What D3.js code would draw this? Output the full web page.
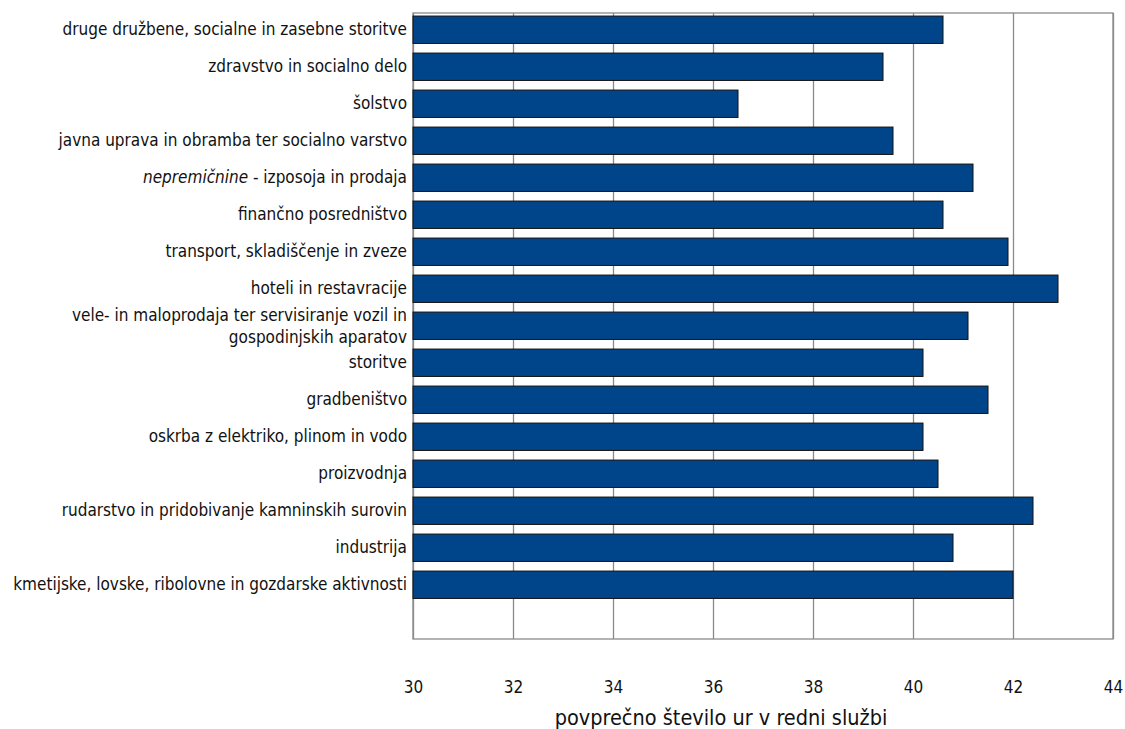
<!DOCTYPE html>
<html>
<head>
<meta charset="utf-8">
<script src="https://cdn.jsdelivr.net/npm/d3@7"></script>
<style>
  body { margin: 0; background: #fff; }
  svg text { font-family: "DejaVu Sans Condensed", "Liberation Sans Narrow", sans-serif; fill: #111; }
</style>
</head>
<body>
<div id="chart"></div>
<script>
var categories = [
  "druge družbene, socialne in zasebne storitve",
  "zdravstvo in socialno delo",
  "šolstvo",
  "javna uprava in obramba ter socialno varstvo",
  "nepremičnine - izposoja in prodaja",
  "finančno posredništvo",
  "transport, skladiščenje in zveze",
  "hoteli in restavracije",
  "vele- in maloprodaja ter servisiranje vozil in|gospodinjskih aparatov",
  "storitve",
  "gradbeništvo",
  "oskrba z elektriko, plinom in vodo",
  "proizvodnja",
  "rudarstvo in pridobivanje kamninskih surovin",
  "industrija",
  "kmetijske, lovske, ribolovne in gozdarske aktivnosti"
];
var hours = [40.6, 39.4, 36.5, 39.6, 41.2, 40.6, 41.9, 42.9, 41.1, 40.2, 41.5, 40.2, 40.5, 42.4, 40.8, 42.0];
var xTicks = [30, 32, 34, 36, 38, 40, 42, 44];
var xTitle = "povprečno število ur v redni službi";

var W = 1125, H = 729;
var plot = {left: 413, right: 1113, top: 13, bottom: 639};

var svg = d3.select("#chart").append("svg")
  .attr("width", W)
  .attr("height", H);

var x = d3.scaleLinear().domain([30, 44]).range([plot.left, plot.right]);
var y = d3.scaleBand()
  .domain(categories)
  .range([plot.top - 1.75, plot.top + 590.25])
  .paddingInner(0.26)
  .paddingOuter(0.13);

// grid lines
svg.append("g")
  .attr("class", "grid")
  .attr("transform", "translate(0," + plot.bottom + ")")
  .call(d3.axisBottom(x).tickValues(xTicks).tickSize(-(plot.bottom - plot.top)).tickFormat(""))
  .call(function(g) { g.select(".domain").remove(); })
  .selectAll("line")
    .attr("stroke", "#8a8a8a")
    .attr("stroke-width", 1.3);

// plot frame
svg.append("rect")
  .attr("x", plot.left)
  .attr("y", plot.top)
  .attr("width", plot.right - plot.left)
  .attr("height", plot.bottom - plot.top)
  .attr("fill", "none")
  .attr("stroke", "#8a8a8a")
  .attr("stroke-width", 1.3);

// bars
svg.selectAll(".bar")
  .data(categories)
  .enter().append("rect")
    .attr("class", "bar")
    .attr("x", x(30))
    .attr("y", function(d) { return y(d); })
    .attr("width", function(d, i) { return x(hours[i]) - x(30); })
    .attr("height", y.bandwidth())
    .attr("fill", "#00448a")
    .attr("stroke", "#111")
    .attr("stroke-width", 1);

// x tick labels
var xAxis = svg.append("g")
  .attr("transform", "translate(0," + plot.bottom + ")")
  .call(d3.axisBottom(x).tickValues(xTicks).tickSize(0).tickPadding(42));
xAxis.select(".domain").remove();
xAxis.selectAll("text")
  .style("font-size", "17px")
  .style("font-family", "\"DejaVu Sans Condensed\", sans-serif")
  .attr("fill", "#111");

svg.append("text")
  .attr("x", 721)
  .attr("y", 725)
  .attr("text-anchor", "middle")
  .style("font-size", "21.5px")
  .text(xTitle);

// category labels
var yAxis = svg.append("g")
  .attr("transform", "translate(" + plot.left + ",0)")
  .call(d3.axisLeft(y).tickSize(0).tickPadding(6));
yAxis.select(".domain").remove();
yAxis.selectAll("text")
  .style("font-size", "17px")
  .attr("fill", "#111")
  .each(function(d) {
    var t = d3.select(this);
    if (d.indexOf("|") >= 0) {
      var parts = d.split("|");
      t.text(null).attr("dy", null);
      t.append("tspan").attr("x", -6).attr("dy", "-0.3em").text(parts[0]);
      t.append("tspan").attr("x", -6).attr("dy", "1.3em").text(parts[1]);
    } else if (d.indexOf("nepremičnine") === 0) {
      t.text(null);
      t.append("tspan").style("font-style", "italic").text("nepremičnine");
      t.append("tspan").text(" - izposoja in prodaja");
    }
  });
</script>
</body>
</html>
